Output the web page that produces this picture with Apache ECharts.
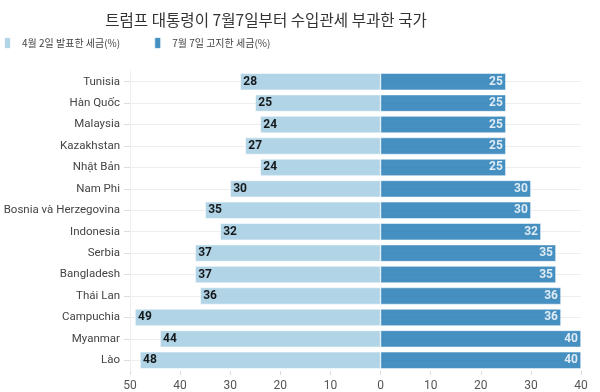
<!DOCTYPE html>
<html><head><meta charset="utf-8">
<script src="https://cdn.jsdelivr.net/npm/echarts@6/dist/echarts.min.js"></script>
<style>html,body{margin:0;padding:0;background:#fff}#c{width:600px;height:392px}</style>
</head><body><div id="c"></div>
<script>
const categories = ['Tunisia','Hàn Quốc','Malaysia','Kazakhstan','Nhật Bản','Nam Phi','Bosnia và Herzegovina','Indonesia','Serbia','Bangladesh','Thái Lan','Campuchia','Myanmar','Lào'];
const aprilRates = [28,25,24,27,24,30,35,32,37,37,36,49,44,48];
const julyRates = [25,25,25,25,25,30,30,32,35,35,36,36,40,40];
const seriesNames = ['4월 2일 발표한 세금(%)','7월 7일 고지한 세금(%)'];
const titleText = '트럼프 대통령이 7월7일부터 수입관세 부과한 국가';

const chart = echarts.init(document.getElementById('c'));
chart.setOption({
  animation: false,
  title: {
    text: titleText, left: 261, top: 7, textAlign: 'center',
    textStyle: {fontFamily: 'Noto Sans CJK KR', fontSize: 15.6, fontWeight: 'normal', color: '#333'}
  },
  legend: {
    left: 3, top: 36, padding: 0, icon: 'roundRect', itemWidth: 7, itemHeight: 12, itemGap: 33,
    textStyle: {fontFamily: 'Noto Sans CJK KR', fontSize: 10, color: '#444', padding: [0,0,0,6]},
    data: seriesNames
  },
  grid: {left: 130, right: 19, top: 71, bottom: 19, containLabel: false},
  xAxis: {
    type: 'value', min: -50, max: 40, interval: 10,
    axisLine: {show: false},
    axisTick: {show: true, length: 4, lineStyle: {color: '#ddd'}},
    splitLine: {show: false},
    axisLabel: {formatter: v => Math.abs(v), color: '#555', fontSize: 12, fontFamily: 'Roboto', margin: 9}
  },
  yAxis: {
    type: 'category', data: categories, inverse: true,
    axisLine: {show: true, onZero: false, lineStyle: {color: '#eee'}},
    axisTick: {show: true, alignWithLabel: true, length: 6, lineStyle: {color: '#ddd'}},
    splitLine: {show: true, alignWithLabel: true, lineStyle: {color: '#eee'}},
    axisLabel: {color: '#444', fontSize: 11.5, fontFamily: 'Roboto', margin: 10}
  },
  series: [
    {
      name: seriesNames[0], type: 'bar', barWidth: 17, barGap: '-100%',
      data: aprilRates.map(v => -v),
      itemStyle: {color: '#a6cee3', opacity: 0.88, borderColor: '#fff', borderWidth: 0.6},
      label: {show: true, position: 'insideLeft', distance: 3, formatter: p => Math.abs(p.value),
        color: '#000', fontWeight: 'bold', fontSize: 12, fontFamily: 'Roboto'}
    },
    {
      name: seriesNames[1], type: 'bar', barWidth: 17, barGap: '-100%',
      data: julyRates,
      itemStyle: {color: '#1f78b4', opacity: 0.83, borderColor: '#fff', borderWidth: 0.6},
      label: {show: true, position: 'insideRight', distance: 3,
        color: '#fff', fontWeight: 'bold', fontSize: 12, fontFamily: 'Roboto'}
    }
  ]
});
</script></body></html>
